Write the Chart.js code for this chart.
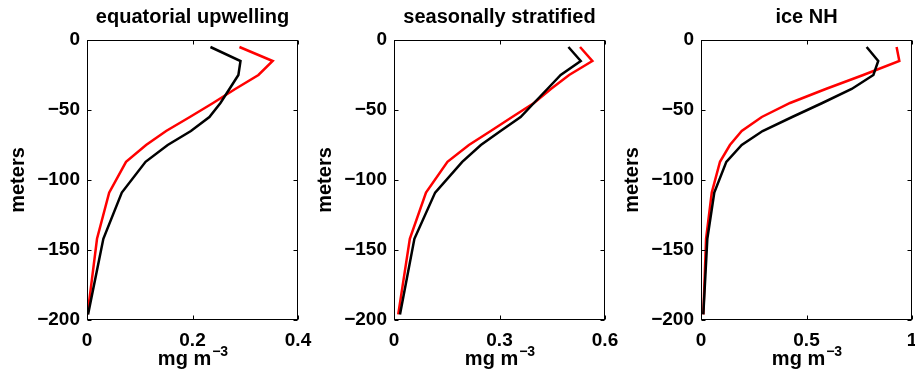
<!DOCTYPE html>
<html>
<head>
<meta charset="utf-8">
<script src="https://cdn.jsdelivr.net/npm/chart.js@4.4.1/dist/chart.umd.min.js"></script>
<style>
  html, body { margin: 0; padding: 0; background: #fff; overflow: hidden; }
  #fig { position: relative; width: 915px; height: 377px; }
  #fig canvas { position: absolute; top: 0; }
</style>
</head>
<body>
<div id="fig">
  <canvas id="p1" width="330" height="377" style="left:0px"></canvas>
  <canvas id="p2" width="330" height="377" style="left:307px"></canvas>
  <canvas id="p3" width="330" height="377" style="left:614px"></canvas>
</div>
<script>
// depth levels (m), shared by every profile
const depths = [-5, -15, -25, -35, -45, -55, -65, -75, -87, -109, -142, -196];

// chlorophyll profiles, mg m-3
const upwellingBlack = [0.234, 0.291, 0.287, 0.270, 0.253, 0.232, 0.197, 0.153, 0.111, 0.066, 0.031, 0.002];
const upwellingRed   = [0.289, 0.352, 0.325, 0.281, 0.239, 0.195, 0.150, 0.112, 0.074, 0.042, 0.019, 0.001];
const stratBlack     = [0.496, 0.531, 0.474, 0.436, 0.398, 0.360, 0.303, 0.247, 0.194, 0.117, 0.058, 0.017];
const stratRed       = [0.529, 0.564, 0.498, 0.446, 0.398, 0.336, 0.275, 0.213, 0.152, 0.091, 0.045, 0.012];
const iceBlack       = [0.785, 0.840, 0.817, 0.714, 0.575, 0.432, 0.292, 0.193, 0.120, 0.063, 0.030, 0.011];
const iceRed         = [0.927, 0.940, 0.769, 0.591, 0.422, 0.288, 0.193, 0.137, 0.090, 0.051, 0.024, 0.011];

const titles = ["equatorial upwelling", "seasonally stratified", "ice NH"];
const xMax = [0.4, 0.6, 1];
const xStep = [0.2, 0.3, 0.5];

const FONT = "'Liberation Sans', Arial, Helvetica, sans-serif";

const perfil = (vals) => vals.map((v, i) => ({ x: v, y: depths[i] }));
const menos = (v) => (v < 0 ? "\u2212" + Math.abs(v) : String(v));

// box round the axes, inward ticks, and the x label with its exponent
const marco = {
  id: "marco",
  afterDraw(chart) {
    const { ctx, chartArea: a, scales } = chart;
    const L = Math.round(a.left) + 0.5, R = Math.round(a.right) - 0.5;
    const T = Math.round(a.top) + 0.5, B = Math.round(a.bottom) - 0.5;
    ctx.save();
    ctx.strokeStyle = "#000";
    ctx.lineWidth = 1;
    ctx.strokeRect(L, T, R - L, B - T);
    ctx.beginPath();
    scales.x.ticks.forEach(t => {
      const px = Math.round(scales.x.getPixelForValue(t.value)) + 0.5;
      ctx.moveTo(px, B); ctx.lineTo(px, B - 4);
      ctx.moveTo(px, T); ctx.lineTo(px, T + 4);
    });
    scales.y.ticks.forEach(t => {
      const py = Math.round(scales.y.getPixelForValue(t.value)) + 0.5;
      ctx.moveTo(L, py); ctx.lineTo(L + 4, py);
      ctx.moveTo(R, py); ctx.lineTo(R - 4, py);
    });
    ctx.stroke();

    ctx.fillStyle = "#000";
    ctx.textBaseline = "alphabetic";
    ctx.textAlign = "left";
    ctx.font = "bold 20px " + FONT;
    const base = "mg m";
    const wBase = ctx.measureText(base).width;
    ctx.font = "bold 14px " + FONT;
    const sup = "\u22123";
    const wSup = ctx.measureText(sup).width;
    const x0 = (a.left + a.right) / 2 - (wBase + wSup) / 2;
    const y0 = 365;
    ctx.font = "bold 20px " + FONT;
    ctx.fillText(base, x0, y0);
    ctx.font = "bold 14px " + FONT;
    ctx.fillText(sup, x0 + wBase + 1, y0 - 9);
    ctx.restore();
  }
};

function panel(id, k, black, red) {
  new Chart(document.getElementById(id), {
    type: "scatter",
    data: {
      datasets: [
        { data: perfil(black), borderColor: "#000000", borderWidth: 2.5, showLine: true, pointRadius: 0, tension: 0 },
        { data: perfil(red), borderColor: "#ff0000", borderWidth: 2.5, showLine: true, pointRadius: 0, tension: 0 }
      ]
    },
    options: {
      responsive: false,
      animation: false,
      devicePixelRatio: 1,
      layout: { padding: { left: 0, right: 32, top: 0, bottom: 0 } },
      plugins: {
        legend: { display: false },
        tooltip: { enabled: false },
        title: {
          display: true,
          text: titles[k],
          fullSize: false,
          color: "#000",
          font: { family: FONT, size: 20, weight: "bold" },
          padding: { top: 5, bottom: 11 }
        }
      },
      scales: {
        x: {
          type: "linear",
          min: 0,
          max: xMax[k],
          grid: { display: false, drawTicks: false },
          border: { display: false },
          afterFit: (s) => { s.height = 57; },
          ticks: {
            stepSize: xStep[k],
            color: "#000",
            padding: 9,
            maxRotation: 0,
            font: { family: FONT, size: 19, weight: "bold" },
            callback: (v) => menos(Math.round(v * 10) / 10)
          }
        },
        y: {
          type: "linear",
          min: -200,
          max: 0,
          grid: { display: false, drawTicks: false },
          border: { display: false },
          afterFit: (s) => { s.width = 87; },
          title: {
            display: true,
            text: "meters",
            color: "#000",
            font: { family: FONT, size: 20, weight: "bold" },
            padding: { top: 6, bottom: 0 }
          },
          ticks: {
            stepSize: 50,
            color: "#000",
            padding: 7,
            font: { family: FONT, size: 19, weight: "bold" },
            callback: (v) => menos(v)
          }
        }
      }
    },
    plugins: [marco]
  });
}

panel("p1", 0, upwellingBlack, upwellingRed);
panel("p2", 1, stratBlack, stratRed);
panel("p3", 2, iceBlack, iceRed);
</script>
</body>
</html>
